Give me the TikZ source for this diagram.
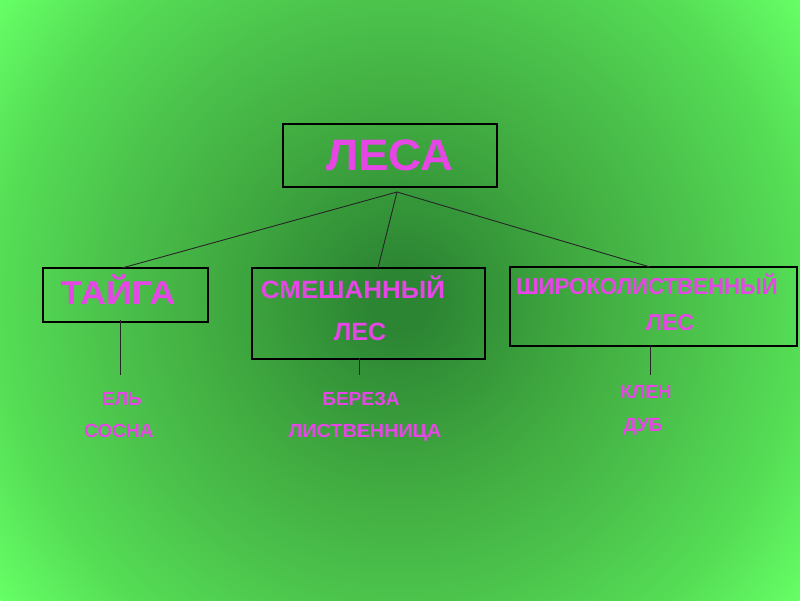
\documentclass[tikz,border=0pt]{standalone}
\usepackage{graphicx}
\usepackage{fontspec}
\setmainfont{Liberation Sans}
\definecolor{c0}{HTML}{2C8533}
\definecolor{c1}{HTML}{40AA40}
\definecolor{c2}{HTML}{4CC44C}
\definecolor{c3}{HTML}{55DD55}
\definecolor{c4}{HTML}{66FF66}
\definecolor{txt}{HTML}{E646E6}
\pgfdeclareradialshading{bgshade}{\pgfpoint{0bp}{0bp}}{color(0bp)=(c0); color(1.5bp)=(c0); color(9bp)=(c1); color(15bp)=(c2); color(20bp)=(c3); color(25bp)=(c4); color(50bp)=(c4)}
\tikzset{
  box/.style={draw=black, line width=2.6pt, fill=none},
  lbl/.style={text=txt, font=\bfseries, anchor=base, inner sep=0pt},
  conn/.style={draw=black!85, line width=0.9pt}
}
\begin{document}
\begin{tikzpicture}[x=1pt,y=-1pt]
\useasboundingbox (0,0) rectangle (800,600);
\begin{scope}
\clip (0,0) rectangle (800,600);
\shade[shading=bgshade] (400,300) circle[radius=500];
\end{scope}
% boxes
\draw[box] (283,124) rectangle (497,187);
\draw[box] (43,268) rectangle (208,322);
\draw[box] (252,268) rectangle (485,359);
\draw[box] (510,267) rectangle (797,346);
% coordinates for connectors
\coordinate (apex) at (397,192);
\coordinate (tt) at (122,268);
\coordinate (st) at (378,268);
\coordinate (wt) at (650,267);
\coordinate (tb) at (120,320);
\coordinate (te) at (120,375);
\coordinate (sb) at (359,358);
\coordinate (se) at (359,375);
\coordinate (wb) at (650,346);
\coordinate (we) at (650,375);
\draw[conn] (apex) -- (tt);
\draw[conn] (apex) -- (st);
\draw[conn] (apex) -- (wt);
\draw[conn] (tb) -- (te);
\draw[conn] (sb) -- (se);
\draw[conn] (wb) -- (we);
% labels
\node[lbl, font=\bfseries\fontsize{44}{44}\selectfont] (lesa) at (390,170) {\scalebox{1.04}[1]{ЛЕСА}};
\node[lbl, font=\bfseries\fontsize{33}{33}\selectfont] (taiga) at (118,304) {\scalebox{1.08}[1]{ТАЙГА}};
\node[lbl, font=\bfseries\fontsize{25}{25}\selectfont] (smesh) at (353,298) {\scalebox{1.04}[1]{СМЕШАННЫЙ}};
\node[lbl, font=\bfseries\fontsize{25}{25}\selectfont] (smles) at (360,340) {ЛЕС};
\node[lbl, font=\bfseries\fontsize{23}{23}\selectfont] (shir) at (647,294) {\scalebox{0.965}[1]{ШИРОКОЛИСТВЕННЫЙ}};
\node[lbl, font=\bfseries\fontsize{23}{23}\selectfont] (shles) at (670,330) {ЛЕС};
\node[lbl, font=\bfseries\fontsize{19}{19}\selectfont] (el) at (122,405) {ЕЛЬ};
\node[lbl, font=\bfseries\fontsize{19}{19}\selectfont] (sosna) at (119,437) {СОСНА};
\node[lbl, font=\bfseries\fontsize{19}{19}\selectfont] (bereza) at (361,405) {БЕРЕЗА};
\node[lbl, font=\bfseries\fontsize{19}{19}\selectfont] (listv) at (365,437) {\scalebox{1.04}[1]{ЛИСТВЕННИЦА}};
\node[lbl, font=\bfseries\fontsize{19}{19}\selectfont] (klen) at (646,398) {КЛЕН};
\node[lbl, font=\bfseries\fontsize{19}{19}\selectfont] (dub) at (643,431) {ДУБ};
\end{tikzpicture}
\end{document}
